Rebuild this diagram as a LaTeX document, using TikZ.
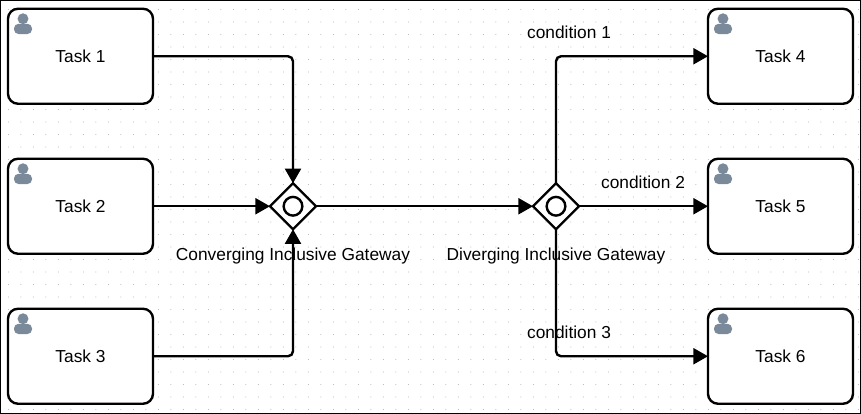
\documentclass[tikz,border=0pt]{standalone}
\usepackage{fontspec}
\setmainfont{Liberation Sans}
\usepackage{xcolor}
\usetikzlibrary{arrows.meta,positioning,shapes.geometric}
\definecolor{icongray}{HTML}{7B8A9A}

\begin{document}
\begin{tikzpicture}[
  x=0.75pt,y=-0.75pt,
  node distance=41.25pt and 87.75pt,
  every node/.style={font=\fontsize{13}{15}\selectfont},
  task/.style={draw,line width=1.8pt,rounded corners=7.5pt,fill=white,outer sep=0pt,minimum width=108.75pt,minimum height=71.25pt},
  gateway/.style={draw,diamond,line width=1.8pt,fill=white,outer sep=0pt,inner sep=0pt,minimum width=34.5pt,minimum height=34.5pt},
  ring/.style={draw,circle,line width=1.8pt,outer sep=0pt,inner sep=0pt,minimum size=14pt},
  arr/.style={-{Triangle[length=11pt,width=12pt]},line width=1.8pt,rounded corners=3.75pt},
  griddot/.style={fill=black!30},
  icon/.style={fill=icongray}
]
\useasboundingbox (0,0) rectangle (861,414);
\fill[white] (0,0) rectangle (861,414);
\foreach \i in {0,...,68} {
  \foreach \j in {0,...,32} {
    \fill[griddot] ({8.4+12.5*\i},{9.5+12.5*\j}) circle (0.4pt);
  }
}
\draw[line width=0.75pt] (0.5,0.5) rectangle (860.5,413.5);

\node[task] (task1) at (80.5,56.25) {Task 1};
\node[task,below=of task1] (task2) {Task 2};
\node[task,below=of task2] (task3) {Task 3};
\node[gateway,right=of task2] (conv) {};
\node[ring] (convring) at (conv) {};
\node[gateway,right=162.75pt of conv] (div) {};
\node[ring] (divring) at (div) {};
\node[task,right=96.75pt of div] (task5) {Task 5};
\node[task,above=of task5] (task4) {Task 4};
\node[task,below=of task5] (task6) {Task 6};

\node[below=37.5pt of conv.center,anchor=center] (convlabel) {Converging Inclusive Gateway};
\node[below=37.5pt of div.center,anchor=center] (divlabel) {Diverging Inclusive Gateway};
\node (cond1) at (569,32) {condition 1};
\node (cond2) at (643,182) {condition 2};
\node (cond3) at (569,332) {condition 3};

\draw[arr] (task1) -| (conv);
\draw[arr] (task2) -- (conv);
\draw[arr] (task3) -| (conv);
\draw[arr] (conv) -- (div);
\draw[arr] (div) |- (task4);
\draw[arr] (div) -- (task5);
\draw[arr] (div) |- (task6);

% person icon in each task
\foreach \t in {task1,task2,task3,task4,task5,task6} {
  \fill[icon] ([xshift=11.25pt,yshift=-7.5pt]\t.north west) circle (4.1pt);
  \fill[icon,rounded corners=3.5pt] ([xshift=4.5pt,yshift=-11.25pt]\t.north west) rectangle ([xshift=18pt,yshift=-19pt]\t.north west);
}
\end{tikzpicture}
\end{document}
